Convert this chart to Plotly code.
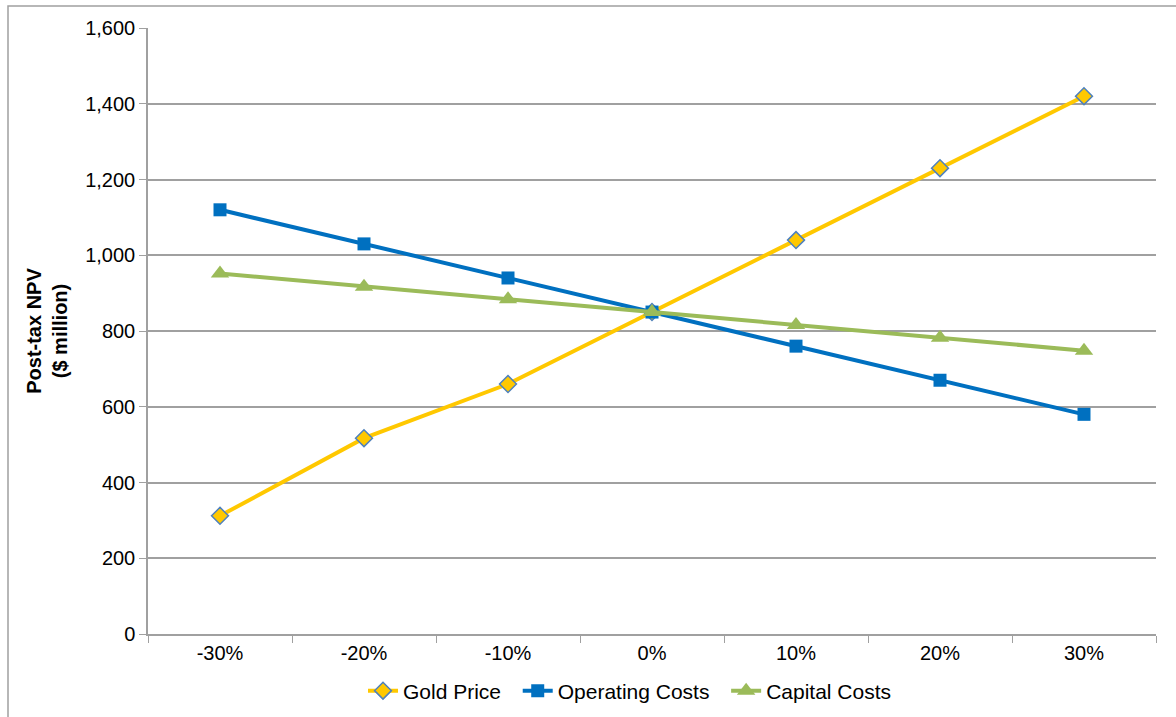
import plotly.graph_objects as go

categories = ["-30%", "-20%", "-10%", "0%", "10%", "20%", "30%"]
gold_price = [312, 517, 660, 850, 1040, 1230, 1420]
operating_costs = [1120, 1030, 940, 850, 760, 670, 580]
capital_costs = [952, 917, 884, 850, 816, 782, 748]

W, H = 1176, 717
L, R, T, B = 148, 20, 28, 83
pw, ph = W - L - R, H - T - B

def px(x):
    return (x - L) / pw

def py(y):
    return (H - B - y) / ph

font = "Liberation Sans, Arial, sans-serif"

fig = go.Figure()
fig.add_trace(go.Scatter(
    x=categories, y=gold_price, name="Gold Price\u00a0\u00a0", mode="lines+markers",
    line=dict(color="#FFC800", width=4),
    marker=dict(symbol="diamond", size=13, color="#FFC800", line=dict(color="#4F81BD", width=1.5)),
))
fig.add_trace(go.Scatter(
    x=categories, y=operating_costs, name="Operating Costs\u00a0\u00a0", mode="lines+markers",
    line=dict(color="#0070C0", width=4),
    marker=dict(symbol="square", size=13, color="#0070C0"),
))
fig.add_trace(go.Scatter(
    x=categories, y=capital_costs, name="Capital Costs", mode="lines+markers",
    line=dict(color="#9BBB59", width=4),
    marker=dict(symbol="triangle-up", size=16, color="#9BBB59"),
))

fig.update_layout(
    width=W, height=H,
    margin=dict(l=L, r=R, t=T, b=B, autoexpand=False),
    paper_bgcolor="white", plot_bgcolor="white",
    font=dict(family=font, size=20, color="#000000"),
    showlegend=True,
    legend=dict(orientation="h", x=px(630), xanchor="center", y=py(691), yanchor="middle",
                font=dict(size=21), itemwidth=30, tracegroupgap=0),
    xaxis=dict(
        type="category", range=[-0.5, 6.5], tickson="boundaries", ticks="outside", ticklen=7,
        tickcolor="#A0A0A0", showline=True, linecolor="#A0A0A0", linewidth=1.5,
        showgrid=False, tickfont=dict(size=20), fixedrange=True,
    ),
    yaxis=dict(
        range=[0, 1600], dtick=200, tickformat=",", ticks="outside", ticklen=7,
        tickcolor="#A0A0A0", showline=True, linecolor="#A0A0A0", linewidth=1.5,
        showgrid=True, gridcolor="#A0A0A0", gridwidth=1.5, zeroline=False,
        tickfont=dict(size=20),
        title=dict(text="<b>Post-tax NPV<br>($ million)</b>", font=dict(size=20), standoff=12),
    ),
    shapes=[dict(type="rect", xref="paper", yref="paper",
                 x0=px(8), x1=px(1180), y0=py(722), y1=py(6),
                 line=dict(color="#A0A0A0", width=1.5), fillcolor="rgba(0,0,0,0)", layer="below")],
)

fig.write_html("out.html", config={"displayModeBar": False},
               post_script="document.body.style.margin='0px';")
